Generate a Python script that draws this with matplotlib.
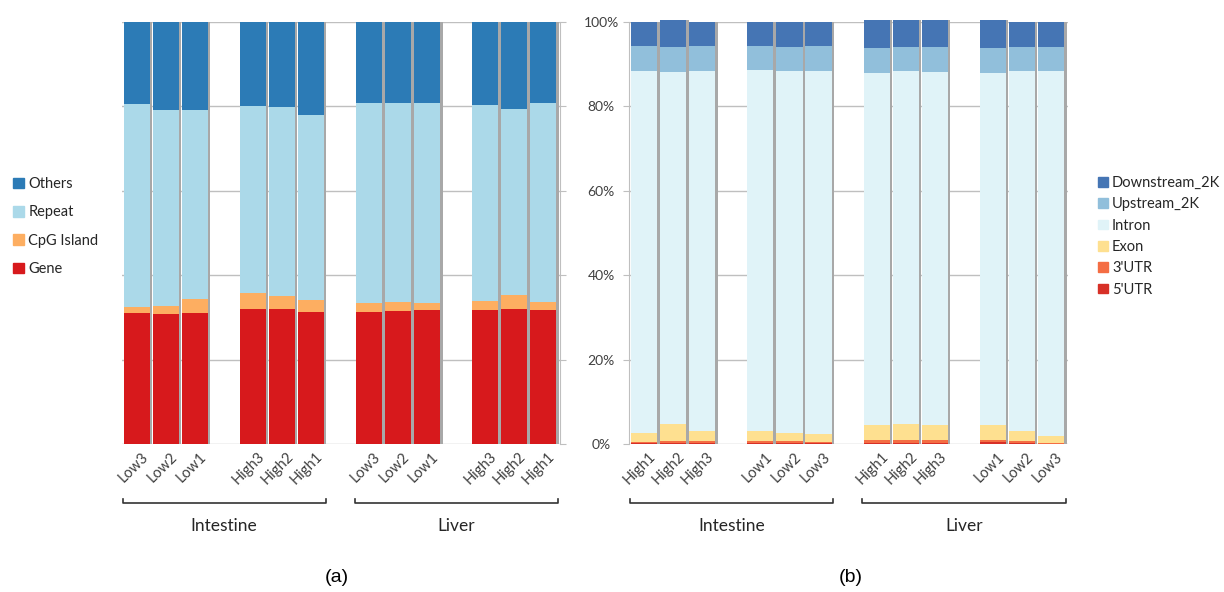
"""
	Stacked percentage bars of peak annotation, (a) repeat classes and (b) gene features,
	for Intestine and Liver samples.
"""

import numpy as np
import matplotlib.pyplot as plt
import matplotlib.transforms as mtransforms
from matplotlib.patches import Patch

plt.rcParams['font.family'] = ['Lato', 'DejaVu Sans']

# (a) order of samples along the x axis
labelsA = ['Low3', 'Low2', 'Low1', 'High3', 'High2', 'High1',
           'Low3', 'Low2', 'Low1', 'High3', 'High2', 'High1']
gene = [31.0, 30.7, 31.1, 32.1, 32.0, 31.2, 31.3, 31.6, 31.7, 31.7, 31.9, 31.7]
cpgIsland = [1.5, 2.1, 3.3, 3.8, 3.1, 3.0, 2.0, 2.1, 1.8, 2.3, 3.3, 1.9]
repeat = [48.0, 46.4, 44.8, 44.2, 44.8, 43.7, 47.4, 47.2, 47.2, 46.4, 44.3, 47.1]
others = [19.5, 20.8, 20.8, 19.9, 20.1, 22.1, 19.3, 19.1, 19.3, 19.6, 20.5, 19.3]

# (b)
labelsB = ['High1', 'High2', 'High3', 'Low1', 'Low2', 'Low3',
           'High1', 'High2', 'High3', 'Low1', 'Low2', 'Low3']
utr5 = [0.2, 0.2, 0.2, 0.2, 0.2, 0.2, 0.3, 0.3, 0.3, 0.5, 0.2, 0.1]
utr3 = [0.3, 0.5, 0.4, 0.4, 0.4, 0.3, 0.6, 0.6, 0.6, 0.4, 0.4, 0.2]
exon = [2.1, 4.0, 2.5, 2.4, 2.1, 1.8, 3.5, 3.8, 3.7, 3.5, 2.4, 1.6]
intron = [85.7, 83.4, 85.3, 85.6, 85.6, 86.1, 83.6, 83.6, 83.5, 83.4, 85.3, 86.4]
upstream = [5.9, 5.9, 5.8, 5.7, 5.8, 5.8, 5.8, 5.8, 5.9, 6.0, 5.8, 5.8]
downstream = [5.8, 6.4, 5.8, 5.7, 5.9, 5.8, 6.6, 6.3, 6.4, 6.6, 5.9, 5.9]

tissues = ['Intestine', 'Liver']

seriesA = [('Gene', gene, '#d7191c'), ('CpG Island', cpgIsland, '#fdae61'),
           ('Repeat', repeat, '#abd9e9'), ('Others', others, '#2c7bb6')]
seriesB = [("5'UTR", utr5, '#d73027'), ("3'UTR", utr3, '#f46d43'),
           ('Exon', exon, '#fee090'), ('Intron', intron, '#e0f3f8'),
           ('Upstream_2K', upstream, '#91bfdb'), ('Downstream_2K', downstream, '#4575b4')]

# 3 bars per group, one empty slot between groups
pos = np.concatenate([np.arange(3) + 4 * g for g in range(4)])
width = 0.9
textColor = '#404040'


def stackedPanel(ax, labels, series):
	bottom = np.zeros(len(pos))
	for name, vals, col in series:
		bottom = bottom + np.array(vals)
	# grey drop shadow behind every bar
	ax.bar(pos + 0.08, bottom, width, color='#a8a8a8', zorder=2, clip_on=False)
	bottom = np.zeros(len(pos))
	for name, vals, col in series:
		ax.bar(pos, vals, width, bottom=bottom, color=col, zorder=3, clip_on=False)
		bottom = bottom + np.array(vals)
	ax.set_ylim(0, 100)
	ax.set_xlim(-0.52, 14.58)
	ax.set_yticks(np.arange(0, 101, 20))
	ax.yaxis.grid(True, color='#bfbfbf', linewidth=1)
	ax.set_axisbelow(True)
	for s in ['top', 'bottom', 'left', 'right']:
		ax.spines[s].set_visible(False)
	ax.set_xticks(pos + 0.15)
	ax.set_xticklabels(labels, rotation=45, ha='right', rotation_mode='anchor',
	                   fontsize=10.5, color=textColor)
	ax.tick_params(axis='x', length=0, pad=4)

	# group brackets under the tick labels
	trans = mtransforms.blended_transform_factory(ax.transData, ax.transAxes)
	for g in range(2):
		x0 = pos[6 * g] - 0.5
		x1 = pos[6 * g + 5] + 0.5
		ax.plot([x0, x0, x1, x1], [-0.130, -0.139, -0.139, -0.130], color='#333333',
		        linewidth=1.2, transform=trans, clip_on=False)
		ax.text((x0 + x1) / 2, -0.175, tissues[g], transform=trans, ha='center',
		        va='top', fontsize=12.5, color='#262626')


fig = plt.figure(figsize=(12.24, 5.92), dpi=100)
axA = fig.add_axes([122 / 1224, 148 / 592, 438 / 1224, 422 / 592])
axB = fig.add_axes([629 / 1224, 148 / 592, 439 / 1224, 422 / 592])

stackedPanel(axA, labelsA, seriesA)
stackedPanel(axB, labelsB, seriesB)

# left panel: ticks on its right edge, no labels
axA.spines['right'].set_visible(True)
axA.spines['right'].set_color('#bfbfbf')
axA.yaxis.tick_right()
axA.tick_params(axis='y', length=4, color='#bfbfbf', labelright=False)

# right panel carries the percentage labels
axB.spines['left'].set_visible(True)
axB.spines['left'].set_color('#bfbfbf')
axB.set_yticklabels(['%d%%' % v for v in range(0, 101, 20)])
axB.tick_params(axis='y', length=4, color='#bfbfbf', labelsize=10, labelcolor=textColor, pad=16)
for t in axB.get_yticklabels():
	t.set_horizontalalignment('center')

handlesA = [Patch(color=col, label=name) for name, vals, col in seriesA[::-1]]
fig.legend(handles=handlesA, loc='upper left', bbox_to_anchor=(0, 1 - 164 / 592),
           frameon=False, fontsize=10.5, labelspacing=0.98, handlelength=0.75,
           handleheight=0.75, handletextpad=0.3, labelcolor='#262626')

handlesB = [Patch(color=col, label=name) for name, vals, col in seriesB[::-1]]
fig.legend(handles=handlesB, loc='upper left', bbox_to_anchor=(1085 / 1224, 1 - 163 / 592),
           frameon=False, fontsize=10.5, labelspacing=0.5, handlelength=0.65,
           handleheight=0.65, handletextpad=0.3, labelcolor='#262626')

fig.text(337 / 1224, 1 - 578 / 592, '(a)', ha='center', va='center', fontsize=14,
         family='Liberation Sans')
fig.text(851 / 1224, 1 - 578 / 592, '(b)', ha='center', va='center', fontsize=14,
         family='Liberation Sans')

plt.savefig('out.png', dpi=100)
